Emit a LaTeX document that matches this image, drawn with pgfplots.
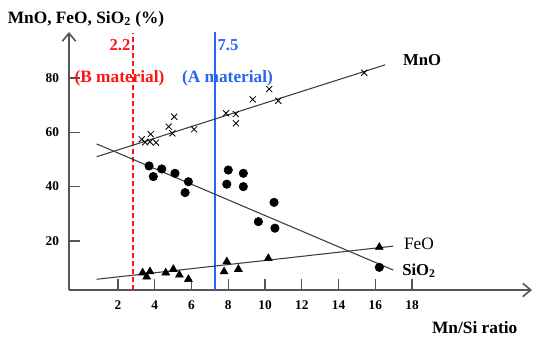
\documentclass[border=0pt]{standalone}
\usepackage{fontspec}
\setmainfont{Liberation Serif}
\usepackage{pgfplots}
\pgfplotsset{compat=1.18}
\usetikzlibrary{arrows.meta}
\definecolor{myred}{RGB}{255,20,20}
\definecolor{myblue}{RGB}{40,100,245}
\definecolor{axisgray}{RGB}{85,85,85}
\definecolor{linegray}{RGB}{60,60,60}
\begin{document}
\begin{tikzpicture}
\begin{axis}[
  at={(0,0)}, anchor=south west,
  scale only axis, width=347.25pt, height=193.5pt,
  xmin=-0.667, xmax=24.53, ymin=1.95, ymax=96.9,
  axis lines=left,
  axis line style={axisgray, line width=1.2pt, -{Straight Barb[length=6pt,width=10pt]}},
  tick align=inside,
  major tick length=8pt,
  tick style={axisgray, line width=1pt},
  xtick={2,4,...,18}, ytick={20,40,60,80},
  /pgf/number format/assume math mode=true,
  ticklabel style={font=\fontsize{10}{12}\selectfont\bfseries},
  xticklabel style={yshift=-4.5pt},
  yticklabel style={xshift=-4pt},
  clip=false,
]
% vertical reference lines
\addplot[myred, line width=1.5pt, dash pattern=on 4pt off 2pt] coordinates {(2.82,1.95) (2.82,96.5)};
\addplot[myblue, line width=1.5pt] coordinates {(7.28,1.95) (7.28,96.9)};
% fit lines
\addplot[linegray, line width=0.8pt] coordinates {(0.84,51.0) (16.53,84.8)};
\addplot[linegray, line width=0.8pt] coordinates {(0.84,55.7) (16.98,9.3)};
\addplot[linegray, line width=0.8pt] coordinates {(0.84,5.9) (16.98,18.1)};
% MnO
\addplot[only marks, mark=x, mark size=3.2pt, mark options={black, line width=0.6pt}] coordinates {
(3.29,57.4) (3.78,59.3) (3.74,56.5) (4.07,56.2) (3.48,56.3) (4.76,62.1) (5.06,65.7) (4.96,59.6)
(6.14,61.1) (7.88,67.0) (8.41,66.7) (8.42,63.3) (9.33,72.1) (10.23,75.9) (10.72,71.6) (15.40,81.9)};
% SiO2
\addplot[only marks, mark=*, mark size=3.2pt, mark options={black}] coordinates {
(3.69,47.6) (3.92,43.7) (4.38,46.5) (5.10,44.9) (5.83,41.8) (5.65,37.8) (8.00,46.1) (8.82,44.9)
(7.92,40.9) (8.82,40.0) (10.49,34.2) (9.64,27.1) (10.54,24.7) (16.22,10.3)};
% FeO
\addplot[only marks, mark=triangle*, mark size=3.4pt, mark options={black}] coordinates {
(3.34,8.3) (3.74,8.7) (3.56,6.8) (4.60,8.3) (5.01,9.6) (5.34,7.5) (5.83,5.9) (7.92,12.4)
(7.77,8.7) (8.55,9.6) (10.18,13.6) (16.22,17.7)};
\end{axis}
\begin{scope}[x=0.75pt, y=-0.75pt, shift={(-69,-290)}]
\node[font=\fontsize{13}{15}\selectfont\bfseries] at (86,19) {MnO, FeO, SiO\textsubscript{2} (\%)};
\node[font=\fontsize{12.5}{15}\selectfont\bfseries, text=myred] at (120,45) {2.2};
\node[font=\fontsize{12.5}{15}\selectfont\bfseries, text=myblue] at (228,45) {7.5};
\node[font=\fontsize{13}{15}\selectfont\bfseries, text=myred] at (119.5,78) {(B material)};
\node[font=\fontsize{13}{15}\selectfont\bfseries, text=myblue] at (227.5,78) {(A material)};
\node[font=\fontsize{12.5}{15}\selectfont\bfseries] at (422,60) {MnO};
\node[font=\fontsize{13}{15}\selectfont] at (419,244) {FeO};
\node[font=\fontsize{12.5}{15}\selectfont\bfseries] at (419,271) {SiO\textsubscript{2}};
\node[font=\fontsize{13}{15}\selectfont\bfseries] at (474.7,328) {Mn/Si ratio};
\pgfresetboundingbox
\useasboundingbox (0,0) rectangle (534,337);
\end{scope}
\end{tikzpicture}
\end{document}
